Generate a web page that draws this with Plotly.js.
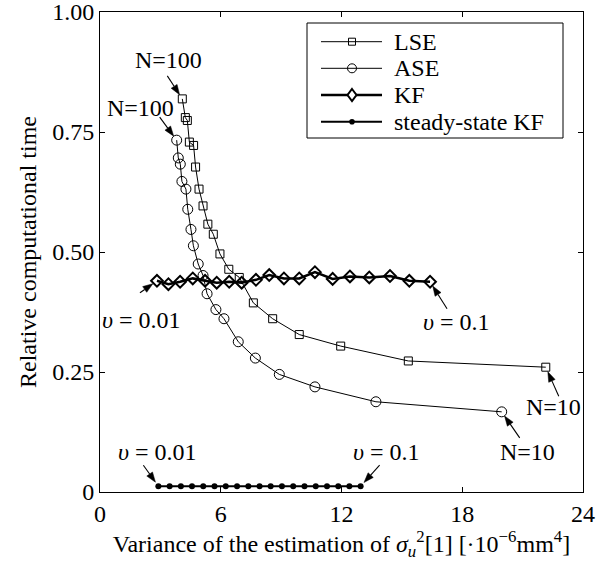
<!DOCTYPE html>
<html>
<head>
<meta charset="utf-8">
<script src="https://cdn.plot.ly/plotly-3.0.1.min.js"></script>
<style>body{margin:0;background:#fff}#chart{width:610px;height:562px}</style>
</head>
<body>
<div id="chart"></div>
<script>
// ---- data ----
var lseX = [4.09, 4.24, 4.34, 4.44, 4.65, 4.75, 4.92, 5.12, 5.36, 5.63, 5.96, 6.40, 6.92, 7.62, 8.58, 9.90, 11.96, 15.32, 22.15];
var lseY = [0.819, 0.780, 0.774, 0.729, 0.722, 0.677, 0.631, 0.596, 0.558, 0.537, 0.496, 0.464, 0.447, 0.394, 0.361, 0.328, 0.304, 0.273, 0.260];

var aseX = [3.81, 3.89, 3.99, 4.07, 4.27, 4.36, 4.52, 4.64, 4.88, 5.12, 5.32, 5.76, 6.16, 6.87, 7.72, 8.91, 10.68, 13.71, 19.96];
var aseY = [0.733, 0.696, 0.683, 0.647, 0.631, 0.589, 0.547, 0.513, 0.475, 0.451, 0.413, 0.380, 0.361, 0.313, 0.279, 0.245, 0.219, 0.188, 0.167];

var kfX = [2.83, 3.40, 3.98, 4.61, 5.22, 5.80, 6.42, 7.04, 7.75, 8.41, 9.14, 9.90, 10.68, 11.56, 12.42, 13.38, 14.41, 15.37, 16.40];
var kfY = [0.440, 0.433, 0.438, 0.445, 0.440, 0.436, 0.438, 0.436, 0.442, 0.452, 0.445, 0.445, 0.458, 0.444, 0.449, 0.447, 0.450, 0.440, 0.438];

var sskfX = [2.90, 3.46, 4.02, 4.57, 5.13, 5.69, 6.25, 6.81, 7.37, 7.93, 8.48, 9.04, 9.60, 10.16, 10.72, 11.28, 11.84, 12.39, 12.95];
var sskfY = [0.012, 0.012, 0.012, 0.012, 0.012, 0.012, 0.012, 0.012, 0.012, 0.012, 0.012, 0.012, 0.012, 0.012, 0.012, 0.012, 0.012, 0.012, 0.012];

var seriesNames = ['LSE', 'ASE', 'KF', 'steady-state KF'];
var xTickVals = [0, 6, 12, 18, 24];
var xTickText = ['0', '6', '12', '18', '24'];
var yTickVals = [0, 0.25, 0.5, 0.75, 1.0];
var yTickText = ['0', '0.25', '0.50', '0.75', '1.00'];

// ---- chart ----
var FONT = 'Liberation Serif';
var FS = 24;

var traces = [
  {x: lseX, y: lseY, name: seriesNames[0], mode: 'lines+markers', type: 'scatter',
   line: {color: '#000', width: 1},
   marker: {symbol: 'square-open', size: 8, color: '#000', line: {width: 1, color: '#000'}}},
  {x: aseX, y: aseY, name: seriesNames[1], mode: 'lines+markers', type: 'scatter',
   line: {color: '#000', width: 1},
   marker: {symbol: 'circle-open', size: 10, color: '#000', line: {width: 1, color: '#000'}}},
  {x: kfX, y: kfY, name: seriesNames[2], mode: 'lines+markers', type: 'scatter',
   line: {color: '#000', width: 2.5},
   marker: {symbol: 'diamond-open', size: 9, color: '#000', line: {width: 2, color: '#000'}}},
  {x: sskfX, y: sskfY, name: seriesNames[3], mode: 'lines+markers', type: 'scatter',
   line: {color: '#000', width: 2},
   marker: {symbol: 'circle', size: 6, color: '#000'}}
];

// plot frame in pixels (for placing the legend box)
var PL = 100, PR = 583, PT = 12, PB = 492;
function px2paperX(p) { return (p - PL) / (PR - PL); }
function px2paperY(p) { return (PB - p) / (PB - PT); }

var shapes = [];
var annotations = [];

// arrows drawn as shapes anchored at a data point; offsets in screen pixels (y down)
function arrow(x, y, dx, dy) {
  var s = 5, L = 10, w = 3.5;
  var len = Math.sqrt(dx * dx + dy * dy);
  var ux = dx / len, uy = dy / len;
  var tx = ux * s, ty = uy * s;
  var bx = tx + ux * L, by = ty + uy * L;
  var nx = -uy, ny = ux;
  var base = {xref: 'x', yref: 'y', xsizemode: 'pixel', ysizemode: 'pixel', xanchor: x, yanchor: y};
  shapes.push(Object.assign({}, base, {type: 'line', x0: dx, y0: -dy, x1: bx, y1: -by,
    line: {color: '#000', width: 1.1}}));
  var p = 'M' + tx + ',' + (-ty) + ' L' + (bx + nx * w) + ',' + (-(by + ny * w)) +
          ' L' + (bx - nx * w) + ',' + (-(by - ny * w)) + ' Z';
  shapes.push(Object.assign({}, base, {type: 'path', path: p, fillcolor: '#000',
    line: {color: '#000', width: 0.5}}));
}
function label(x, y, t) {
  annotations.push({x: x, y: y, xref: 'x', yref: 'y', text: t, showarrow: false,
          font: {family: FONT, size: FS, color: '#000'}});
}

arrow(lseX[0], lseY[0], -15, -23);
arrow(aseX[0], aseY[0], -17, -23);
arrow(kfX[0], kfY[0], -17, 12);
arrow(kfX[kfX.length - 1], kfY[kfY.length - 1], 17, 27);
arrow(lseX[lseX.length - 1], lseY[lseY.length - 1], 13, 29);
arrow(aseX[aseX.length - 1], aseY[aseY.length - 1], 18, 26);
arrow(sskfX[0], sskfY[0], -15, -21);
arrow(sskfX[sskfX.length - 1], sskfY[sskfY.length - 1], 19, -21);

label(3.39, 0.90, 'N=100');
label(2.02, 0.80, 'N=100');
label(2.04, 0.358, '<i>υ</i> = 0.01');
label(17.69, 0.355, '<i>υ</i> = 0.1');
label(22.52, 0.178, 'N=10');
label(21.22, 0.083, 'N=10');
label(2.88, 0.084, '<i>υ</i> = 0.01');
label(14.25, 0.084, '<i>υ</i> = 0.1');

// ---- legend (box, sample lines, markers, texts) ----
shapes.push({type: 'rect', xref: 'paper', yref: 'paper',
  x0: px2paperX(307), x1: px2paperX(563), y0: px2paperY(138), y1: px2paperY(23),
  fillcolor: '#fff', line: {color: '#000', width: 1}});
var legRows = [41.7, 68.3, 95, 121.7];
var legLineW = [1, 1, 2.5, 2];
for (var i = 0; i < seriesNames.length; i++) {
  var ly = px2paperY(legRows[i]);
  shapes.push({type: 'line', xref: 'paper', yref: 'paper', x0: px2paperX(321), x1: px2paperX(382),
    y0: ly, y1: ly, line: {color: '#000', width: legLineW[i]}});
  var m = {xref: 'paper', yref: 'paper', xsizemode: 'pixel', ysizemode: 'pixel',
           xanchor: px2paperX(352), yanchor: ly};
  if (i === 0) shapes.push(Object.assign(m, {type: 'rect', x0: -3.5, x1: 3.5, y0: -3.5, y1: 3.5,
    line: {color: '#000', width: 1}}));
  if (i === 1) shapes.push(Object.assign(m, {type: 'circle', x0: -4.5, x1: 4.5, y0: -4.5, y1: 4.5,
    line: {color: '#000', width: 1}}));
  if (i === 2) shapes.push(Object.assign(m, {type: 'path', path: 'M0,6 L4.5,0 L0,-6 L-4.5,0 Z',
    fillcolor: '#fff', line: {color: '#000', width: 2}}));
  if (i === 3) shapes.push(Object.assign(m, {type: 'circle', x0: -2.8, x1: 2.8, y0: -2.8, y1: 2.8,
    fillcolor: '#000', line: {color: '#000', width: 0}}));
  annotations.push({xref: 'paper', yref: 'paper', x: px2paperX(392), y: ly, xanchor: 'left', yanchor: 'middle',
    text: seriesNames[i], showarrow: false, font: {family: FONT, size: FS, color: '#000'}});
}

var layout = {
  width: 610, height: 562,
  margin: {l: PL, r: 610 - PR, t: PT, b: 562 - PB},
  paper_bgcolor: '#fff', plot_bgcolor: '#fff',
  font: {family: FONT, size: FS, color: '#000'},
  showlegend: false,
  xaxis: {range: [0, 24], tickvals: xTickVals, ticktext: xTickText,
          ticks: 'inside', ticklen: 5, tickcolor: '#000', showgrid: false, zeroline: false,
          showline: true, linecolor: '#000', linewidth: 1, mirror: 'ticks',
          tickfont: {family: FONT, size: FS}, ticklabeloverflow: 'allow',
          title: {text: 'Variance of the estimation of <i>σ</i><sub><i>u</i></sub><sup>2</sup>[1] [·10<sup>−6</sup>mm<sup>4</sup>]',
                  font: {family: FONT, size: FS}, standoff: 4}},
  yaxis: {range: [0, 1], tickvals: yTickVals, ticktext: yTickText,
          ticks: 'inside', ticklen: 5, tickcolor: '#000', showgrid: false, zeroline: false,
          showline: true, linecolor: '#000', linewidth: 1, mirror: 'ticks',
          tickfont: {family: FONT, size: FS}, ticklabeloverflow: 'allow',
          title: {text: 'Relative computational time', font: {family: FONT, size: FS}, standoff: 8}},
  annotations: annotations,
  shapes: shapes
};

Plotly.newPlot('chart', traces, layout, {displayModeBar: false, staticPlot: true});
</script>
</body>
</html>
